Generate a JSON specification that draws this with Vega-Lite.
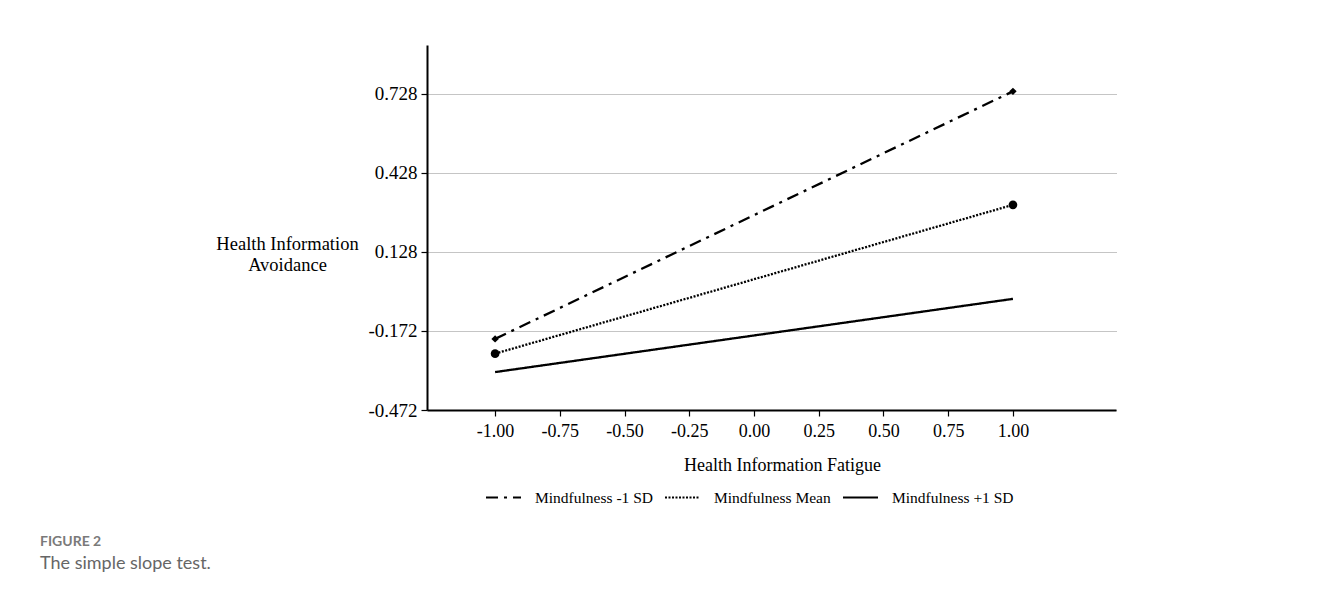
{
  "$schema": "https://vega.github.io/schema/vega-lite/v6.json",
  "autosize": "none",
  "padding": {"left": 427, "top": 45, "right": 212, "bottom": 187},
  "width": 689,
  "height": 365,
  "background": "white",
  "data": {"values": [
    {"group": "Mindfulness -1 SD", "fatigue": -1, "avoidance": -0.202},
    {"group": "Mindfulness -1 SD", "fatigue": 1, "avoidance": 0.738},
    {"group": "Mindfulness Mean", "fatigue": -1, "avoidance": -0.258},
    {"group": "Mindfulness Mean", "fatigue": 1, "avoidance": 0.307},
    {"group": "Mindfulness +1 SD", "fatigue": -1, "avoidance": -0.328},
    {"group": "Mindfulness +1 SD", "fatigue": 1, "avoidance": -0.05}
  ]},
  "title": {
    "text": "FIGURE 2",
    "subtitle": "The simple slope test.",
    "orient": "bottom",
    "anchor": "start",
    "frame": "group",
    "dx": -387,
    "offset": 29,
    "font": "Lato",
    "fontSize": 14,
    "fontWeight": "bold",
    "color": "#7a7a7a",
    "subtitleFont": "Lato",
    "subtitleFontSize": 18,
    "subtitleColor": "#666666",
    "subtitlePadding": 6
  },
  "encoding": {
    "x": {
      "field": "fatigue", "type": "quantitative",
      "scale": {"domain": [-1.263, 1.398], "nice": false, "zero": false},
      "axis": {
        "title": "Health Information Fatigue",
        "values": [-1, -0.75, -0.5, -0.25, 0, 0.25, 0.5, 0.75, 1],
        "format": ".2f",
        "labelExpr": "replace(datum.label, '\u2212', '-')",
        "grid": false,
        "domainColor": "black", "domainWidth": 2,
        "tickColor": "black", "tickSize": 6, "tickWidth": 1.2,
        "labelFont": "Liberation Serif", "labelFontSize": 18, "labelColor": "black", "labelPadding": 6,
        "titleFont": "Liberation Serif", "titleFontSize": 18, "titleFontWeight": "normal", "titleColor": "black",
        "titlePadding": 16, "titleX": 355
      }
    },
    "y": {
      "field": "avoidance", "type": "quantitative",
      "scale": {"domain": [-0.472, 0.914], "nice": false, "zero": false},
      "axis": {
        "title": ["Health Information", "Avoidance"],
        "values": [-0.472, -0.172, 0.128, 0.428, 0.728],
        "format": ".3f",
        "labelExpr": "replace(datum.label, '\u2212', '-')",
        "grid": true, "gridColor": "#8a8a8a", "gridDash": [1, 1], "gridWidth": 1,
        "domainColor": "black", "domainWidth": 2,
        "tickColor": "black", "tickSize": 6, "tickWidth": 1.2,
        "labelFont": "Liberation Serif", "labelFontSize": 19, "labelColor": "black", "labelPadding": 4,
        "titleFont": "Liberation Serif", "titleFontSize": 18.5, "titleFontWeight": "normal", "titleColor": "black",
        "titleAngle": 0, "titleAlign": "center", "titleBaseline": "middle",
        "titleX": -140, "titleY": 198, "titleLineHeight": 21
      }
    }
  },
  "layer": [
    {
      "mark": {"type": "line", "color": "black", "strokeWidth": 2.3},
      "encoding": {
        "strokeDash": {
          "field": "group", "type": "nominal",
          "scale": {
            "domain": ["Mindfulness -1 SD", "Mindfulness Mean", "Mindfulness +1 SD"],
            "range": [[12, 6, 3, 6], [2, 1.5], [1, 0]]
          },
          "legend": {
            "title": null, "orient": "none", "direction": "horizontal",
            "legendX": 58, "legendY": 434,
            "symbolType": "stroke", "symbolSize": 1225, "symbolStrokeWidth": 2, "symbolStrokeColor": "black",
            "labelFont": "Liberation Serif", "labelFontSize": 15.5, "labelColor": "black",
            "labelOffset": 13, "columnPadding": 8
          }
        }
      }
    },
    {
      "transform": [{"filter": "datum.group === 'Mindfulness -1 SD'"}],
      "mark": {"type": "point", "shape": "diamond", "filled": true, "color": "black", "size": 55, "opacity": 1}
    },
    {
      "transform": [{"filter": "datum.group === 'Mindfulness Mean'"}],
      "mark": {"type": "point", "shape": "circle", "filled": true, "color": "black", "size": 75, "opacity": 1}
    }
  ],
  "config": {"view": {"stroke": null}}
}
